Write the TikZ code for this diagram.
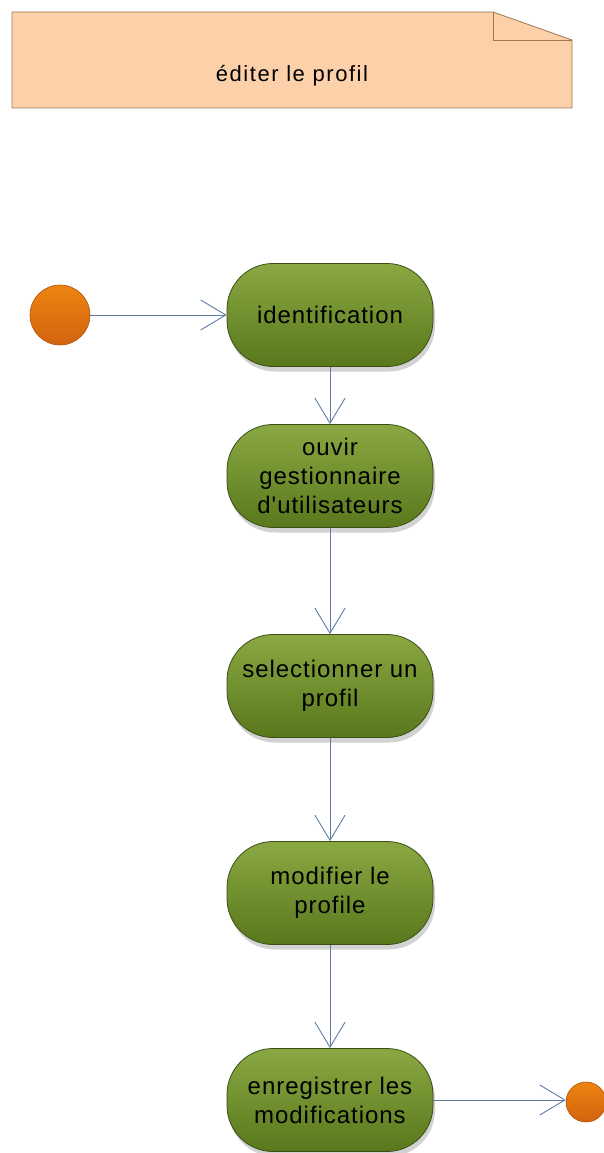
\documentclass[tikz,border=0pt]{standalone}
\usepackage{fontspec}
\setmainfont{Liberation Sans}
\newfontfamily\actfont[LetterSpace=4]{Liberation Sans}
\newfontfamily\notefont[LetterSpace=7]{Liberation Sans}
\usetikzlibrary{arrows.meta,shadows}

\definecolor{notefill}{RGB}{252,208,168}
\definecolor{notedraw}{RGB}{160,120,80}
\definecolor{acttop}{RGB}{138,168,66}
\definecolor{actbot}{RGB}{88,120,28}
\definecolor{actdraw}{RGB}{60,78,22}
\definecolor{ballfill}{RGB}{234,110,18}
\definecolor{balldraw}{RGB}{176,80,14}
\definecolor{flow}{RGB}{96,124,166}

\tikzset{
  activity/.style={rectangle, rounded corners=46pt, draw=actdraw, line width=0.8pt,
    top color=acttop, bottom color=actbot, minimum width=206pt, minimum height=103pt,
    align=center, inner sep=2pt,
    font=\actfont\fontsize{24}{29}\selectfont,
    drop shadow={opacity=0.35, shadow xshift=2pt, shadow yshift=-5pt}},
  ballnode/.style={circle, draw=balldraw, line width=0.6pt, inner sep=0pt,
    top color=ballfill!85!yellow, bottom color=ballfill!90!black},
  flowline/.style={draw=flow, line width=0.9pt,
    -{Straight Barb[length=25pt, width=30pt, line width=0.9pt]}},
}

\begin{document}
\begin{tikzpicture}[x=1pt, y=-1pt]
\useasboundingbox (0,0) rectangle (604,1153);
\fill[white] (0,0) rectangle (604,1153);

% note with folded corner
\draw[fill=notefill, draw=notedraw, line width=0.8pt]
  (12,12) -- (493,12) -- (572,40) -- (572,108) -- (12,108) -- cycle;
\draw[draw=notedraw, line width=0.8pt] (493,12) -- (493,40) -- (572,40);
\node (note) at (292,76) {\notefont\fontsize{22}{26}\selectfont éditer le profil};

% activities
\node[activity] (ident) at (330,315) {identification};
\node[activity] (ouvrir) at (330,476) {ouvir\\gestionnaire\\d'utilisateurs};
\node[activity] (select) at (330,686) {selectionner un\\profil};
\node[activity] (modif) at (330,893) {modifier le\\profile};
\node[activity] (enreg) at (330,1100) {enregistrer les\\modifications};

% start and end points
\node[ballnode, minimum size=60pt] (start) at (60,315) {};
\node[ballnode, minimum size=40pt] (stop) at (586,1102) {};

% control flow
\draw[flowline] (start) -- (ident);
\draw[flowline] (ident) -- (ouvrir);
\draw[flowline] (ouvrir) -- (select);
\draw[flowline] (select) -- (modif);
\draw[flowline] (modif) -- (enreg);
\draw[flowline] (enreg.east) -- (enreg.east -| stop.west);
\end{tikzpicture}
\end{document}
